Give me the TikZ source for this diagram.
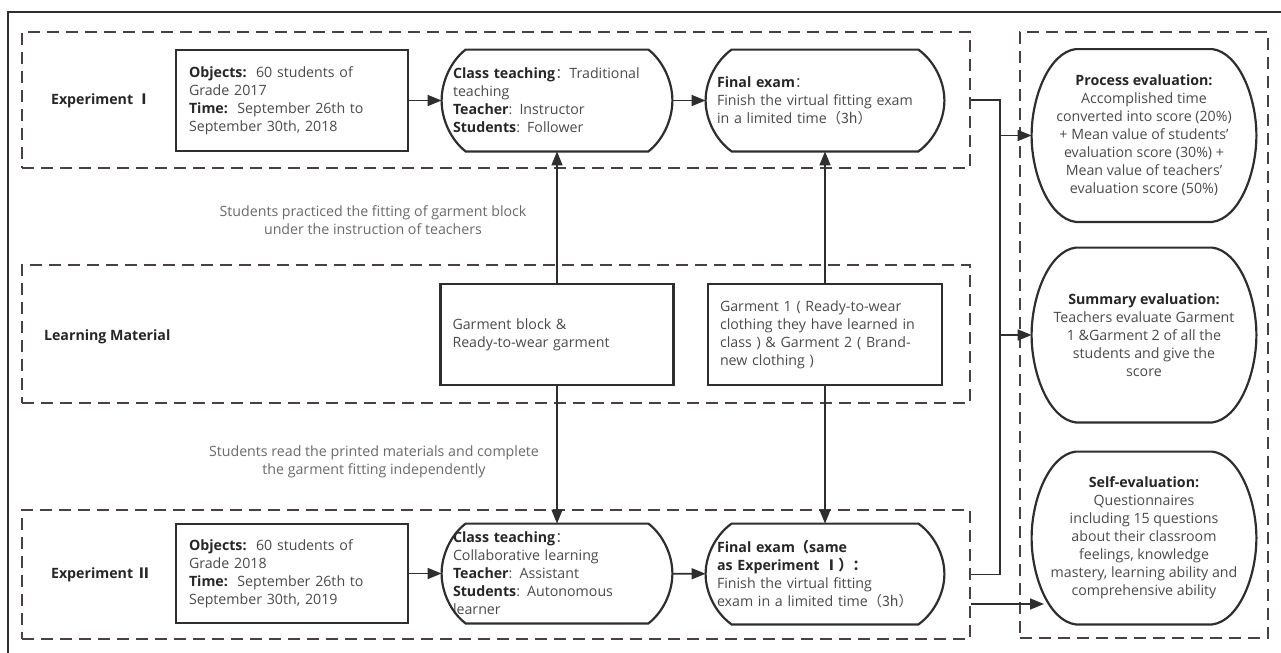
\documentclass[tikz,border=0pt]{standalone}
\usepackage{fontspec}
\setmainfont{Open Sans}
\newfontfamily\cjk{Noto Sans CJK SC}
\usetikzlibrary{arrows.meta,calc}

\definecolor{linegray}{HTML}{2E2E2E}
\definecolor{dashgray}{HTML}{4A4040}
\definecolor{txtgray}{HTML}{4A4A4A}
\definecolor{lblgray}{HTML}{6A6A6A}

\newcommand{\hd}[1]{\textbf{\color{black!85}#1}}
% outline with bowed ends, drawn round a node (#2 bulge, #3 drop at the corner, #4 side tension)
\newcommand{\drawcapsule}[4]{%
  \draw[outline] ($(#1.north west)+(#2,0)$) -- ($(#1.north east)+(-#2,0)$)
    .. controls ($($(#1.north east)!#3!(#1.east)$)+(-0.4*#2,0)$) and ($(#1.east)!#4!(#1.north east)$) .. (#1.east)
    .. controls ($(#1.east)!#4!(#1.south east)$) and ($($(#1.south east)!#3!(#1.east)$)+(-0.4*#2,0)$) .. ($(#1.south east)+(-#2,0)$)
    -- ($(#1.south west)+(#2,0)$)
    .. controls ($($(#1.south west)!#3!(#1.west)$)+(0.4*#2,0)$) and ($(#1.west)!#4!(#1.south west)$) .. (#1.west)
    .. controls ($(#1.west)!#4!(#1.north west)$) and ($($(#1.north west)!#3!(#1.west)$)+(0.4*#2,0)$) .. cycle;}

\begin{document}
\begin{tikzpicture}[x=0.5pt, y=-0.5pt,
  every node/.style={font=\fontsize{7.1}{9}\selectfont, text=txtgray},
  group/.style={draw=dashgray, line width=1.4pt, dash pattern=on 6pt off 3.5pt, inner sep=0pt},
  box/.style={draw=linegray, line width=1.1pt, inner sep=0pt, align=left},
  capsule/.style={inner sep=0pt, align=left},
  evalbox/.style={inner sep=0pt, align=center, minimum width=112pt, minimum height=86pt},
  note/.style={align=center, text=lblgray},
  outline/.style={draw=linegray, line width=1.1pt},
  link/.style={draw=linegray, line width=0.8pt},
  conn/.style={link, -{Triangle[length=7pt,width=5.5pt]}}]
  \useasboundingbox (0,0) rectangle (1281,653);

  % Cadre
  \draw[linegray, line width=0.7pt] (8,653) -- (8,12) -- (1281,12);

  % Groupes
  \node[group, minimum width=474pt, minimum height=68pt] (expI) at (496,100) {};
  \node[group, minimum width=474pt, minimum height=69pt] (mat) at (496,334) {};
  \node[group, minimum width=474pt, minimum height=64.5pt] (expII) at (496,574.5) {};
  \node[group, minimum width=124pt, minimum height=303pt] (evalgrp) at (1144,335) {};

  \node[anchor=west, font=\fontsize{7.1}{9}\selectfont\bfseries, text=black!85] (lblI) at (44,101) {Experiment {\cjk Ⅰ}};
  \node[anchor=west, font=\fontsize{7.1}{9}\selectfont\bfseries, text=black!85] (lblmat) at (37,337) {Learning Material};
  \node[anchor=west, font=\fontsize{7.1}{9}\selectfont\bfseries, text=black!85] (lblII) at (44,575) {Experiment {\cjk Ⅱ}};

  % Experiment I
  \node[box, minimum width=116pt, minimum height=50.5pt, text width=103pt] (objI) at (292,100.5)
    {\hd{Objects:}\ \ 60 students of\\Grade 2017\\\hd{Time:}\ \ September 26th to\\September 30th, 2018};
  \node[capsule, minimum width=115pt, minimum height=50.5pt, text width=104pt] (classI) at (557,100.5)
    {\hd{Class teaching}{\cjk ：}Traditional\\teaching\\\hd{Teacher}: Instructor\\\hd{Students}: Follower};
  \node[capsule, minimum width=119pt, minimum height=50.5pt, text width=108pt] (finalI) at (825,100.5)
    {\hd{Final exam}{\cjk ：}\\Finish the virtual fitting exam\\in a limited time{\cjk （3h）}};

  % Learning material
  \node[box, minimum width=116.5pt, minimum height=50.5pt, text width=104.5pt] (gblock) at (557,334.5)
    {Garment block \&\\Ready-to-wear garment};
  \node[box, minimum width=117pt, minimum height=50.5pt, text width=105pt] (garm) at (825,334.5)
    {Garment 1 ( Ready-to-wear\\clothing they have learned in\\class ) \& Garment 2 ( Brand-\\new clothing )};

  % Experiment II
  \node[box, minimum width=116pt, minimum height=49.5pt, text width=103pt] (objII) at (292,573.5)
    {\hd{Objects:}\ \ 60 students of\\Grade 2018\\\hd{Time:}\ \ September 26th to\\September 30th, 2019};
  \node[capsule, minimum width=115pt, minimum height=49.5pt, text width=104pt] (classII) at (557,573.5)
    {\hd{Class teaching}{\cjk ：}\\Collaborative learning\\\hd{Teacher}: Assistant\\\hd{Students}: Autonomous\\learner};
  \node[capsule, minimum width=119pt, minimum height=50pt, text width=108pt] (finalII) at (825,574)
    {\hd{Final exam{\cjk （}same}\\\hd{as Experiment {\cjk Ⅰ）：}}\\Finish the virtual fitting\\exam in a limited time{\cjk （3h）}};

  % Evaluations
  \node[evalbox] (process) at (1144,135.5)
    {\hd{Process evaluation:}\\Accomplished time\\converted into score (20\%)\\+ Mean value of students'\\evaluation score (30\%) +\\Mean value of teachers'\\evaluation score (50\%)};
  \node[evalbox, minimum height=87pt] (summary) at (1144,335)
    {\hd{Summary evaluation:}\\Teachers evaluate Garment\\1 \&Garment 2 of all the\\students and give the\\score};
  \node[evalbox] (selfev) at (1144,538)
    {\hd{Self-evaluation:}\\Questionnaires\\including 15 questions\\about their classroom\\feelings, knowledge\\mastery, learning ability and\\comprehensive ability};

  \foreach \n/\b/\d/\s in {classI/24/0.22/0.38, finalI/26/0.22/0.38, classII/24/0.22/0.38, finalII/26/0.22/0.38,
                          process/44/0.04/0.45, summary/44/0.04/0.45, selfev/44/0.04/0.45} {
    \drawcapsule{\n}{\b}{\d}{\s}
  }

  % Notes
  \node[note] (noteI) at (373,220) {Students practiced the fitting of garment block\\under the instruction of teachers};
  \node[note] (noteII) at (374,461.5) {Students read the printed materials and complete\\the garment fitting independently};

  % Fleches
  \draw[conn] (objI) -- (classI);
  \draw[conn] (classI) -- (finalI);
  \draw[conn] (objII) -- (classII);
  \draw[conn] (classII) -- (finalII);
  \draw[conn] (gblock) -- (classI);
  \draw[conn] (gblock) -- (classII);
  \draw[conn] (garm) -- (finalI);
  \draw[conn] (garm) -- (finalII);

  \coordinate (bus) at (1000,0);
  \coordinate (selfin) at (1044,604);
  \draw[link] (expI.east) -| (bus |- expII.east) -- (expII.east);
  \draw[conn] (bus |- process.west) -- (process.west);
  \draw[conn] (bus |- summary.west) -- (summary.west);
  \draw[conn] (selfin -| expII.east) -- (selfin);
\end{tikzpicture}
\end{document}
